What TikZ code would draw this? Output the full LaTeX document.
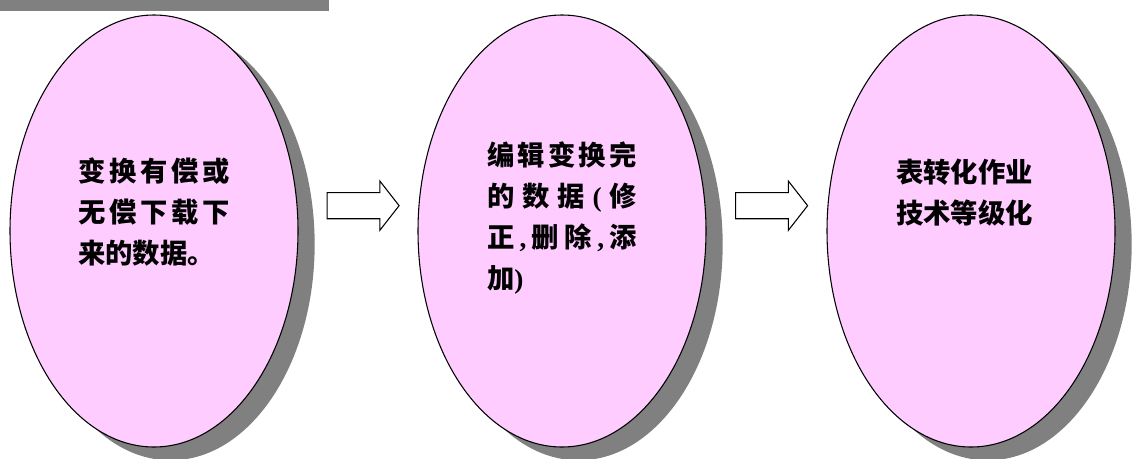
\documentclass[tikz,border=0pt]{standalone}
\usepackage{fontspec}
\newfontfamily\cjk{Noto Sans CJK SC}
\newfontfamily\lat{Liberation Serif}
\usepackage{tikz}
\usetikzlibrary{shapes.geometric}
\usetikzlibrary{shapes.arrows}
\usetikzlibrary{shadows}
\usetikzlibrary{calc}
\definecolor{pinkfill}{HTML}{FFCCFF}
\definecolor{shadowgray}{HTML}{808080}

\begin{document}
\begin{tikzpicture}[x=0.75pt, y=-0.75pt,
   oval/.style={ellipse, draw=black, line width=0.8pt, fill=pinkfill,
      minimum width=216pt, minimum height=324pt, inner sep=0pt,
      drop shadow={shadow xshift=12.5pt, shadow yshift=-10pt, fill=shadowgray, opacity=1}},
   txt/.style={inner sep=0pt, align=left,
      font=\cjk\bfseries\fontsize{20.5pt}{30.75pt}\selectfont},
   blockarrow/.style={single arrow, draw=black, line width=0.8pt, fill=white,
      minimum height=54pt, inner xsep=0pt, inner ysep=9.4pt,
      single arrow head extend=8.6pt, single arrow tip angle=104}]
   \useasboundingbox (0,0) rectangle (1132,458);
   \fill[shadowgray] (0,0) rectangle (329,11);

   \node[oval] (e1) at (154,231) {};
   \node[oval] (e2) at (562,231) {};
   \node[oval] (e3) at (971,231) {};

   \node[txt] (t1) at ([yshift=14pt]e1.center)
      {\makebox[114pt][s]{变\hfill 换\hfill 有\hfill 偿\hfill 或}\\
       \makebox[114pt][s]{无\hfill 偿\hfill 下\hfill 载\hfill 下}\\
       \makebox[114pt][l]{来的数据。}};
   \node[txt] (t2) at ([yshift=9.4pt]e2.center)
      {\makebox[112.5pt][s]{编\hfill 辑\hfill 变\hfill 换\hfill 完}\\
       \makebox[112.5pt][s]{的\hfill 数\hfill 据\hfill {\lat\bfseries (}\hfill 修}\\
       \makebox[112.5pt][s]{正\hfill {\lat\bfseries ,}\hfill 删\hfill 除\hfill {\lat\bfseries ,}\hfill 添}\\
       \makebox[112.5pt][l]{加{\lat\bfseries )}}};
   \node[txt] (t3) at ([xshift=-5pt, yshift=29pt]e3.center)
      {表转化作业\\
       技术等级化};

   \node[blockarrow] (a1) at ([yshift=19pt]$(e1.east)!0.5!(e2.west)$) {};
   \node[blockarrow] (a2) at ([yshift=19pt]$(e2.east)!0.5!(e3.west)$) {};
\end{tikzpicture}
\end{document}
